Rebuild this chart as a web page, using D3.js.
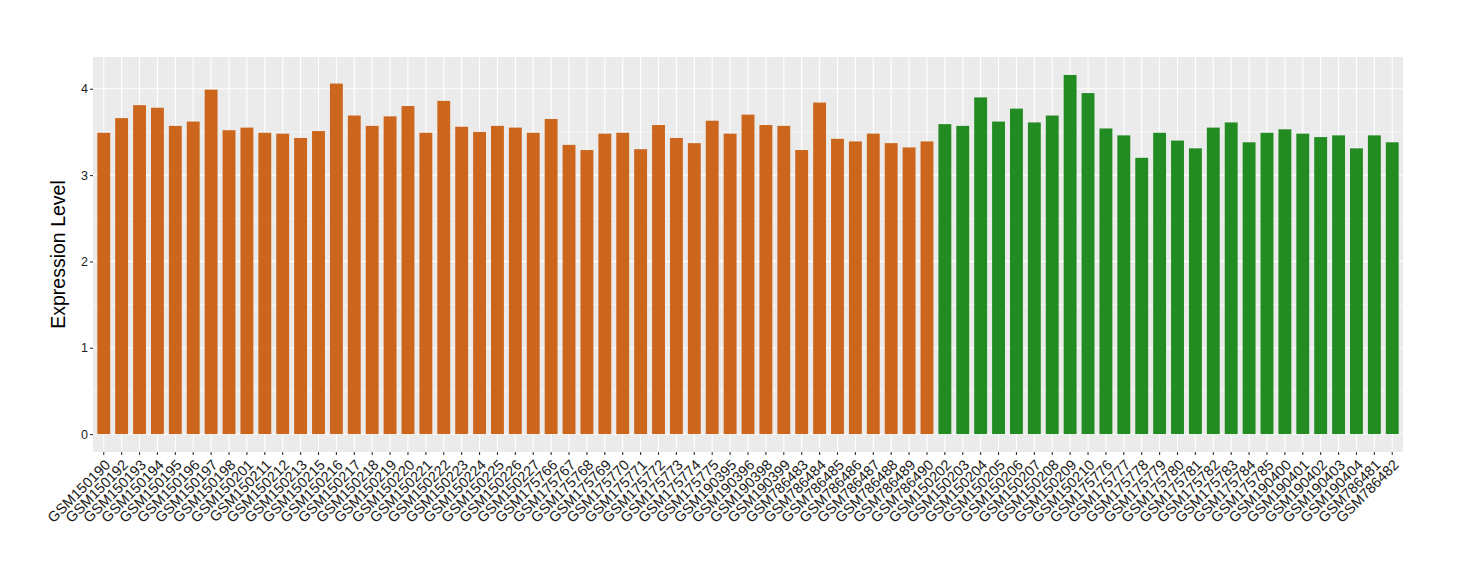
<!DOCTYPE html>
<meta charset="utf-8">
<style>
    body { margin: 0; background: #fff; }
    text { font-family: "Liberation Sans", Arial, Helvetica, sans-serif; }
    .grid line { stroke: #fff; }
</style>
<body>
<script src="https://d3js.org/d3.v7.min.js"></script>
<script>
    // sample names, in plot order
    var orangeSamples = ["GSM150190", "GSM150192", "GSM150193", "GSM150194", "GSM150195", "GSM150196",
        "GSM150197", "GSM150198", "GSM150201", "GSM150211", "GSM150212", "GSM150213", "GSM150215",
        "GSM150216", "GSM150217", "GSM150218", "GSM150219", "GSM150220", "GSM150221", "GSM150222",
        "GSM150223", "GSM150224", "GSM150225", "GSM150226", "GSM150227", "GSM175766", "GSM175767",
        "GSM175768", "GSM175769", "GSM175770", "GSM175771", "GSM175772", "GSM175773", "GSM175774",
        "GSM175775", "GSM190395", "GSM190396", "GSM190398", "GSM190399", "GSM786483", "GSM786484",
        "GSM786485", "GSM786486", "GSM786487", "GSM786488", "GSM786489", "GSM786490"];
    var orangeValues = [3.49, 3.66, 3.81, 3.78, 3.57, 3.62, 3.99, 3.52, 3.55, 3.49, 3.48, 3.43, 3.51,
        4.06, 3.69, 3.57, 3.68, 3.80, 3.49, 3.86, 3.56, 3.50, 3.57, 3.55, 3.49, 3.65, 3.35,
        3.29, 3.48, 3.49, 3.30, 3.58, 3.43, 3.37, 3.63, 3.48, 3.70, 3.58, 3.57, 3.29, 3.84,
        3.42, 3.39, 3.48, 3.37, 3.32, 3.39];

    var greenSamples = ["GSM150202", "GSM150203", "GSM150204", "GSM150205", "GSM150206", "GSM150207",
        "GSM150208", "GSM150209", "GSM150210", "GSM175776", "GSM175777", "GSM175778", "GSM175779",
        "GSM175780", "GSM175781", "GSM175782", "GSM175783", "GSM175784", "GSM175785", "GSM190400",
        "GSM190401", "GSM190402", "GSM190403", "GSM190404", "GSM786481", "GSM786482"];
    var greenValues = [3.59, 3.57, 3.90, 3.62, 3.77, 3.61, 3.69, 4.16, 3.95, 3.54, 3.46, 3.20, 3.49,
        3.40, 3.31, 3.55, 3.61, 3.38, 3.49, 3.53, 3.48, 3.44, 3.46, 3.31, 3.46, 3.38];

    var yTicks = [0, 1, 2, 3, 4];
    var yMinor = [0.5, 1.5, 2.5, 3.5];
    var colors = { orange: "#CD661D", green: "#228B22" };

    var data = orangeSamples.map(function (s, i) { return { name: s, value: orangeValues[i], group: "orange" }; })
        .concat(greenSamples.map(function (s, i) { return { name: s, value: greenValues[i], group: "green" }; }));

    // panel box
    var margin = { top: 57, right: 57, bottom: 128, left: 93 },
        fullW = 1460, fullH = 580,
        width = fullW - margin.left - margin.right,
        height = fullH - margin.top - margin.bottom;

    var x = d3.scaleBand()
        .domain(data.map(function (d) { return d.name; }))
        .range([0, width])
        .paddingInner(0)
        .paddingOuter(0.1);

    var maxV = d3.max(data, function (d) { return d.value; });
    var y = d3.scaleLinear()
        .domain([-maxV * 0.05, maxV * 1.05])
        .range([height, 0]);

    var svg = d3.select("body").append("svg")
        .attr("width", fullW)
        .attr("height", fullH)
        .append("g")
        .attr("transform", "translate(" + margin.left + "," + margin.top + ")");

    // panel background
    svg.append("rect")
        .attr("width", width)
        .attr("height", height)
        .attr("fill", "#EBEBEB");

    // minor grid
    svg.append("g").attr("class", "grid")
        .selectAll("line")
        .data(yMinor)
        .enter().append("line")
        .attr("x1", 0).attr("x2", width)
        .attr("y1", function (d) { return y(d); })
        .attr("y2", function (d) { return y(d); })
        .attr("stroke-width", 0.55);

    // major grid
    svg.append("g").attr("class", "grid")
        .selectAll("line")
        .data(yTicks)
        .enter().append("line")
        .attr("x1", 0).attr("x2", width)
        .attr("y1", function (d) { return y(d); })
        .attr("y2", function (d) { return y(d); })
        .attr("stroke-width", 1.1);

    svg.append("g").attr("class", "grid")
        .selectAll("line")
        .data(data)
        .enter().append("line")
        .attr("y1", 0).attr("y2", height)
        .attr("x1", function (d) { return x(d.name) + x.bandwidth() / 2; })
        .attr("x2", function (d) { return x(d.name) + x.bandwidth() / 2; })
        .attr("stroke-width", 1.1);

    // bars
    var barW = x.bandwidth() * 0.72;
    svg.selectAll(".bar")
        .data(data)
        .enter().append("rect")
        .attr("class", "bar")
        .attr("x", function (d) { return x(d.name) + (x.bandwidth() - barW) / 2; })
        .attr("width", barW)
        .attr("y", function (d) { return y(d.value); })
        .attr("height", function (d) { return y(0) - y(d.value); })
        .attr("fill", function (d) { return colors[d.group]; });

    // y axis
    var yAxis = svg.append("g")
        .call(d3.axisLeft(y).tickValues(yTicks).tickSize(3).tickPadding(2).tickFormat(d3.format("d")));
    yAxis.select(".domain").remove();
    yAxis.selectAll("line").attr("stroke", "#333").attr("stroke-width", 1.1);
    yAxis.selectAll("text").attr("fill", "#222").style("font-size", "12.5px");

    // x axis, labels turned 45 degrees
    var xAxis = svg.append("g")
        .attr("transform", "translate(0," + height + ")")
        .call(d3.axisBottom(x).tickSize(3).tickPadding(2));
    xAxis.select(".domain").remove();
    xAxis.selectAll("line").attr("stroke", "#333").attr("stroke-width", 1.1);
    xAxis.selectAll("text")
        .attr("fill", "#1a1a1a")
        .style("font-size", "14.5px")
        .style("text-anchor", "end")
        .attr("x", 0)
        .attr("y", 0)
        .attr("dx", "0")
        .attr("dy", "0.72em")
        .attr("transform", "translate(0,6.5) rotate(-45)");

    // y title
    svg.append("text")
        .attr("transform", "translate(-28," + (height / 2) + ") rotate(-90)")
        .style("text-anchor", "middle")
        .style("font-size", "19.5px")
        .attr("fill", "#000")
        .text("Expression Level");
</script>
</body>
